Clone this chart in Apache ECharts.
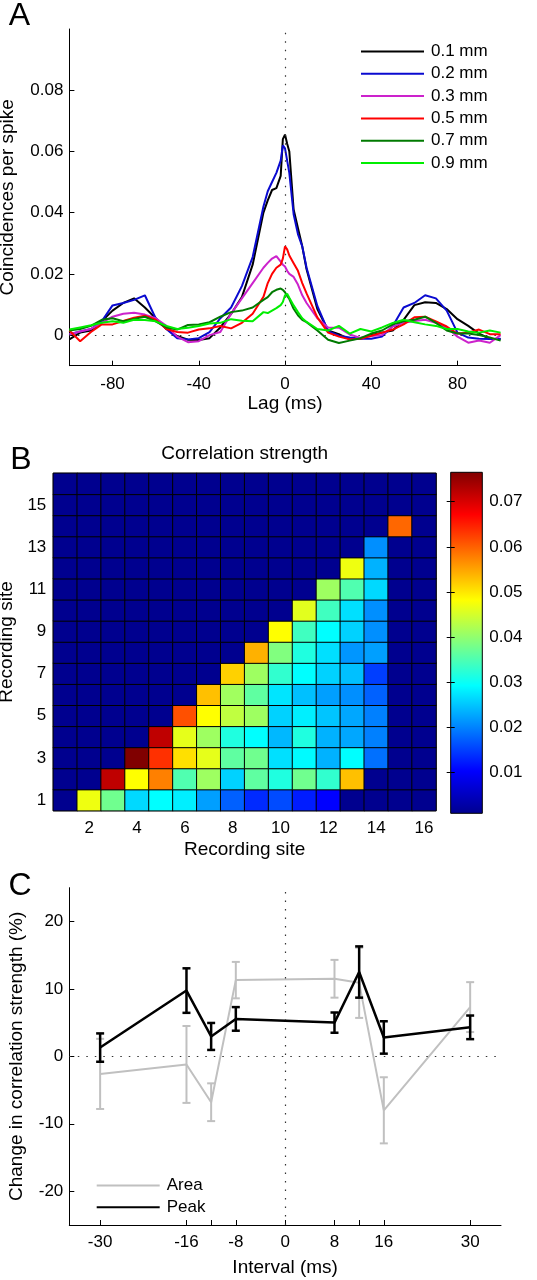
<!DOCTYPE html>
<html><head><meta charset="utf-8">
<script src="https://cdn.jsdelivr.net/npm/echarts@6/dist/echarts.min.js"></script>
<style>html,body{margin:0;padding:0;background:#fff}#c{width:537px;height:1280px}</style>
</head><body><div id="c"></div>
<script>
// ---------- Panel A: cross-correlograms ----------
const lags = [-100,-95,-90,-85,-80,-75,-70,-65,-60,-55,-50,-45,-40,-35,-30,-25,-20,-15,-10,-8,-6,-4,-2,-1,0,1,2,4,6,8,10,15,20,25,30,35,40,45,50,55,60,65,70,75,80,85,90,95,100];
const ccg01 = [-0.0014,0.0008,0.0015,0.0045,0.008,0.0105,0.012,0.009,0.0055,0.002,-0.0003,-0.0015,-0.0016,-0.001,0.0025,0.0069,0.0124,0.023,0.040,0.044,0.0474,0.048,0.052,0.064,0.0655,0.0625,0.060,0.041,0.035,0.029,0.0215,0.0085,0.0015,0.0003,-0.0014,-0.0012,0.0,0.0008,0.0015,0.005,0.0098,0.0107,0.0105,0.0085,0.0052,0.003,0.0005,-0.0012,-0.0013];
const ccg02 = [0.0003,0.0012,0.002,0.0045,0.0097,0.0105,0.0115,0.013,0.0055,0.002,-0.001,-0.0014,-0.001,0.001,0.0055,0.009,0.016,0.0255,0.042,0.047,0.050,0.053,0.057,0.062,0.061,0.057,0.053,0.0395,0.033,0.029,0.022,0.0095,0.0013,-0.0002,-0.0008,-0.0012,-0.0012,-0.0005,0.003,0.009,0.0105,0.013,0.012,0.008,0.0008,-0.0008,-0.0012,-0.0013,-0.0012];
const ccg03 = [0.0003,0.0012,0.002,0.004,0.006,0.007,0.0073,0.0067,0.0055,0.003,-0.0005,-0.0023,-0.002,0.0,0.001,0.007,0.012,0.017,0.022,0.0236,0.025,0.0258,0.024,0.023,0.0224,0.021,0.020,0.019,0.0165,0.013,0.0105,0.0055,0.0025,0.0024,0.0002,-0.0009,-0.0003,0.0,0.0028,0.004,0.0046,0.005,0.004,0.0025,-0.0005,-0.0025,-0.0018,-0.0025,0.0];
const ccg05 = [0.0015,-0.002,0.001,0.0035,0.0035,0.0046,0.0057,0.0063,0.005,0.002,0.001,0.0008,0.0018,0.0022,0.003,0.0022,0.004,0.007,0.0125,0.017,0.020,0.022,0.023,0.025,0.029,0.028,0.026,0.0235,0.021,0.017,0.0136,0.0058,0.0008,-0.0005,-0.0014,-0.0012,-0.0002,0.0008,0.0018,0.0035,0.0058,0.006,0.0045,0.0028,0.0005,0.0008,0.0018,0.0003,0.0003];
const ccg07 = [0.0015,0.002,0.003,0.005,0.0055,0.0045,0.0053,0.006,0.0045,0.0025,0.0018,0.0033,0.0035,0.0042,0.006,0.0075,0.008,0.009,0.0115,0.0124,0.014,0.0148,0.0152,0.0148,0.014,0.0128,0.0118,0.0086,0.0065,0.005,0.0042,0.0015,-0.0015,-0.0026,-0.0018,-0.001,0.0005,0.0015,0.0035,0.0045,0.005,0.006,0.004,0.0015,0.0005,0.0005,0.0,-0.0008,-0.0018];
const ccg09 = [0.0018,0.0025,0.0032,0.004,0.0045,0.004,0.005,0.0049,0.0045,0.003,0.002,0.0024,0.003,0.0038,0.004,0.0052,0.0047,0.0045,0.0075,0.0072,0.008,0.0088,0.0098,0.0108,0.013,0.0135,0.0122,0.0097,0.0075,0.0055,0.0043,0.002,0.0015,0.003,0.0005,0.002,0.0012,0.0025,0.004,0.005,0.0042,0.0035,0.003,0.002,0.002,0.0012,0.0008,0.0015,0.0008];
const ccgNames = ['0.1 mm','0.2 mm','0.3 mm','0.5 mm','0.7 mm','0.9 mm'];
const ccgColors = ['#000000','#0a0ad0','#cc22cc','#ff0000','#007a00','#00ee00'];
const lagTicks = [-80,-40,0,40,80];
const ccgTicks = [0,0.02,0.04,0.06,0.08];

// ---------- Panel B: correlation strength matrix (rows = recording site 1..16 from bottom) ----------
const siteLabels = ['1','2','3','4','5','6','7','8','9','10','11','12','13','14','15','16'];
const corrRows = [
  [0,0.047,0.0376,0.0265,0.0293,0.0281,0.0222,0.0175,0.0135,0.016,0.0125,0.0104,0,0,0,0],
  [0,0,0.0718,0.0482,0.0576,0.0352,0.041,0.026,0.0363,0.0316,0.0376,0.0329,0.0529,0,0,0],
  [0,0,0,0.0765,0.0635,0.0505,0.0463,0.0363,0.0376,0.027,0.029,0.0236,0.0293,0.0187,0,0],
  [0,0,0,0,0.0718,0.0463,0.041,0.0316,0.0293,0.024,0.0316,0.0236,0.0228,0.0199,0,0],
  [0,0,0,0,0,0.0612,0.0482,0.0435,0.041,0.026,0.0281,0.025,0.0228,0.0199,0,0],
  [0,0,0,0,0,0,0.0529,0.0412,0.0363,0.0274,0.0246,0.0222,0.021,0.0176,0,0],
  [0,0,0,0,0,0,0,0.0516,0.041,0.0329,0.0293,0.026,0.0246,0.015,0,0],
  [0,0,0,0,0,0,0,0,0.054,0.0388,0.0316,0.027,0.0215,0.0222,0,0],
  [0,0,0,0,0,0,0,0,0,0.0482,0.034,0.0293,0.026,0.021,0,0],
  [0,0,0,0,0,0,0,0,0,0,0.046,0.034,0.027,0.021,0,0],
  [0,0,0,0,0,0,0,0,0,0,0,0.041,0.0352,0.0265,0,0],
  [0,0,0,0,0,0,0,0,0,0,0,0,0.047,0.0236,0,0],
  [0,0,0,0,0,0,0,0,0,0,0,0,0,0.021,0,0],
  [0,0,0,0,0,0,0,0,0,0,0,0,0,0,0.0595,0],
  [0,0,0,0,0,0,0,0,0,0,0,0,0,0,0,0],
  [0,0,0,0,0,0,0,0,0,0,0,0,0,0,0,0]
];
const cbarMin = 0.001, cbarMax = 0.0765;
const cbarTicks = [0.01,0.02,0.03,0.04,0.05,0.06,0.07];
const jet = ['#00008F','#0000FF','#0080FF','#00FFFF','#80FF80','#FFFF00','#FF8000','#FF0000','#800000'];

// ---------- Panel C: change in correlation strength ----------
const intervals = [-30,-16,-12,-8,8,12,16,30];
const peakChange = [1.3,9.75,2.95,5.55,5.0,12.5,2.8,4.3];
const peakErr = [2.1,3.3,2.0,1.75,1.5,3.8,2.4,1.75];
const areaChange = [-2.6,-1.2,-6.8,11.3,11.5,10.9,-8.0,7.3];
const areaErr = [5.2,5.7,2.8,2.7,2.8,5.2,4.9,3.7];
const intTicks = [-30,-16,-12,-8,0,8,12,16,30];
const intLabels = [-30,-16,-8,0,8,16,30];
const chgTicks = [-20,-10,0,10,20];

const FONT = "'Liberation Sans', Arial, Helvetica, sans-serif";
const dotted = {type:[1.5,7], color:'#333', width:1.2};

const heatData = [];
corrRows.forEach((row, yi) => row.forEach((v, xi) => heatData.push([xi, yi, Math.max(v, cbarMin)])));

function errBar(color, lw, cap){
  return function(params, api){
    const x = api.value(0), lo = api.value(1), hi = api.value(2);
    const a = api.coord([x, lo]), b = api.coord([x, hi]);
    const st = {stroke: color, lineWidth: lw, fill: null};
    return {type:'group', children:[
      {type:'line', shape:{x1:a[0], y1:a[1], x2:b[0], y2:b[1]}, style:st},
      {type:'line', shape:{x1:a[0]-cap, y1:a[1], x2:a[0]+cap, y2:a[1]}, style:st},
      {type:'line', shape:{x1:b[0]-cap, y1:b[1], x2:b[0]+cap, y2:b[1]}, style:st}
    ]};
  };
}

const axisTxt = {color:'#000', fontSize:17, fontFamily:FONT};
const nameTxt = {color:'#000', fontSize:19, fontFamily:FONT};
const blackLine = {show:true, onZero:false, lineStyle:{color:'#000', width:1}};

const series = [];
// Panel A zero lines
series.push({type:'line', xAxisIndex:0, yAxisIndex:0, data:[], silent:true, z:1,
  markLine:{silent:true, symbol:'none', label:{show:false}, lineStyle:dotted, data:[{xAxis:0},{yAxis:0}]}});
[ccg01,ccg02,ccg03,ccg05,ccg07,ccg09].forEach((arr, k) => {
  series.push({type:'line', name:ccgNames[k], xAxisIndex:0, yAxisIndex:0, symbol:'none',
    data: lags.map((l,i)=>[l, arr[i]]), lineStyle:{width:2, color:ccgColors[k]}, itemStyle:{color:ccgColors[k]}, z:3+k});
});
// Panel B heatmap
series.push({type:'heatmap', xAxisIndex:1, yAxisIndex:1, data:heatData,
  itemStyle:{borderColor:'#000', borderWidth:1}, emphasis:{disabled:true}});
// Panel C
series.push({type:'line', xAxisIndex:3, yAxisIndex:4, data:[], silent:true, z:1,
  markLine:{silent:true, symbol:'none', label:{show:false}, lineStyle:dotted, data:[{xAxis:0},{yAxis:0}]}});
series.push({type:'custom', xAxisIndex:3, yAxisIndex:4, renderItem:errBar('#c0c0c0',2,4), z:3,
  data: intervals.map((x,i)=>[x, areaChange[i]-areaErr[i], areaChange[i]+areaErr[i]]), encode:{x:0, y:[1,2]}});
series.push({type:'line', name:'Area', xAxisIndex:3, yAxisIndex:4, symbol:'none', z:4,
  data: intervals.map((x,i)=>[x, areaChange[i]]), lineStyle:{color:'#c0c0c0', width:2}, itemStyle:{color:'#c0c0c0'}});
series.push({type:'custom', xAxisIndex:3, yAxisIndex:4, renderItem:errBar('#000',2.5,4), z:5,
  data: intervals.map((x,i)=>[x, peakChange[i]-peakErr[i], peakChange[i]+peakErr[i]]), encode:{x:0, y:[1,2]}});
series.push({type:'line', name:'Peak', xAxisIndex:3, yAxisIndex:4, symbol:'none', z:6,
  data: intervals.map((x,i)=>[x, peakChange[i]]), lineStyle:{color:'#000', width:2.5}, itemStyle:{color:'#000'}});

const option = {
  animation:false,
  backgroundColor:'#fff',
  textStyle:{fontFamily:FONT},
  grid:[
    {left:69.4, top:29, width:431.2, height:336.7, outerBoundsMode:'none', containLabel:false},
    {left:53.3, top:473.3, width:382.7, height:337.4, show:true, borderColor:'#222', borderWidth:1, outerBoundsMode:'none', containLabel:false},
    {left:450.7, top:472.3, width:31.6, height:341, outerBoundsMode:'none', containLabel:false},
    {left:69.3, top:887.7, width:431.7, height:337.3, outerBoundsMode:'none', containLabel:false}
  ],
  xAxis:[
    {gridIndex:0, type:'value', min:-100, max:100, axisLine:blackLine,
     axisTick:{inside:true, length:5, customValues:lagTicks, lineStyle:{color:'#000'}},
     axisLabel:Object.assign({customValues:lagTicks, margin:10}, axisTxt), splitLine:{show:false},
     name:'Lag (ms)', nameLocation:'middle', nameGap:29, nameTextStyle:nameTxt},
    {gridIndex:1, type:'category', data:siteLabels, axisLine:{show:false}, axisTick:{show:false},
     axisLabel:Object.assign({interval:(i)=>i%2===1, margin:9}, axisTxt),
     name:'Recording site', nameLocation:'middle', nameGap:30, nameTextStyle:nameTxt},
    {gridIndex:2, type:'value', show:false, min:0, max:1},
    {gridIndex:3, type:'value', min:-35, max:35, axisLine:blackLine,
     axisTick:{inside:true, length:5, customValues:intTicks, lineStyle:{color:'#000'}},
     axisLabel:Object.assign({customValues:intLabels, margin:9}, axisTxt), splitLine:{show:false},
     name:'Interval (ms)', nameLocation:'middle', nameGap:33, nameTextStyle:nameTxt}
  ],
  yAxis:[
    {gridIndex:0, type:'value', min:-0.01, max:0.1, axisLine:blackLine,
     axisTick:{inside:true, length:5, customValues:ccgTicks, lineStyle:{color:'#000'}},
     axisLabel:Object.assign({customValues:ccgTicks, margin:6, formatter:(v)=> v===0?'0':v.toFixed(2)}, axisTxt),
     splitLine:{show:false},
     name:'Coincidences per spike', nameLocation:'middle', nameGap:52, nameTextStyle:nameTxt},
    {gridIndex:1, type:'category', data:siteLabels, axisLine:{show:false}, axisTick:{show:false},
     axisLabel:Object.assign({interval:(i)=>i%2===0, margin:7}, axisTxt),
     name:'Recording site', nameLocation:'middle', nameGap:35, nameTextStyle:nameTxt},
    {gridIndex:2, type:'value', position:'right', min:cbarMin, max:cbarMax, axisLine:{show:false},
     axisTick:{inside:true, length:4, customValues:cbarTicks, lineStyle:{color:'#000'}},
     axisLabel:Object.assign({customValues:cbarTicks, margin:7, formatter:(v)=>v.toFixed(2)}, axisTxt),
     splitLine:{show:false}, z:10},
    {gridIndex:2, type:'value', position:'left', min:cbarMin, max:cbarMax, axisLine:{show:false},
     axisTick:{inside:true, length:4, customValues:cbarTicks, lineStyle:{color:'#000'}},
     axisLabel:{show:false}, splitLine:{show:false}, z:10},
    {gridIndex:3, type:'value', min:-25, max:25, axisLine:blackLine,
     axisTick:{inside:true, length:5, customValues:chgTicks, lineStyle:{color:'#000'}},
     axisLabel:Object.assign({customValues:chgTicks, margin:6}, axisTxt), splitLine:{show:false},
     name:'Change in correlation strength (%)', nameLocation:'middle', nameGap:43, nameTextStyle:nameTxt}
  ],
  visualMap:{type:'continuous', show:false, min:cbarMin, max:cbarMax, seriesIndex:7, inRange:{color:jet}},
  legend:[
    {data:ccgNames, orient:'vertical', left:356, top:38, icon:'rect', itemWidth:63, itemHeight:2, itemGap:5.3,
     textStyle:{color:'#000', fontSize:17, fontFamily:FONT, padding:[0,0,0,2]}},
    {data:['Area','Peak'], orient:'vertical', left:91.7, top:1172, icon:'rect', itemWidth:63, itemHeight:2, itemGap:4.7,
     textStyle:{color:'#000', fontSize:17, fontFamily:FONT, padding:[0,0,0,2]}}
  ],
  graphic:[
    {type:'text', x:19.5, y:16.5, style:{text:'A', font:'32px '+FONT, fill:'#000', align:'center', verticalAlign:'middle'}},
    {type:'text', x:21, y:460.5, style:{text:'B', font:'32px '+FONT, fill:'#000', align:'center', verticalAlign:'middle'}},
    {type:'text', x:20, y:886.5, style:{text:'C', font:'32px '+FONT, fill:'#000', align:'center', verticalAlign:'middle'}},
    {type:'text', x:244.7, y:454, style:{text:'Correlation strength', font:'19px '+FONT, fill:'#000', align:'center', verticalAlign:'middle'}},
    {type:'rect', x:450.7, y:472.3, shape:{x:0, y:0, width:31.6, height:341}, z:1,
     style:{stroke:'#000', lineWidth:1,
       fill:{type:'linear', x:0, y:1, x2:0, y2:0, colorStops: jet.map((c,i)=>({offset:i/(jet.length-1), color:c}))}}}
  ],
  series: series
};
const chart = echarts.init(document.getElementById('c'), null, {renderer:'canvas'});
chart.setOption(option);
</script></body></html>
